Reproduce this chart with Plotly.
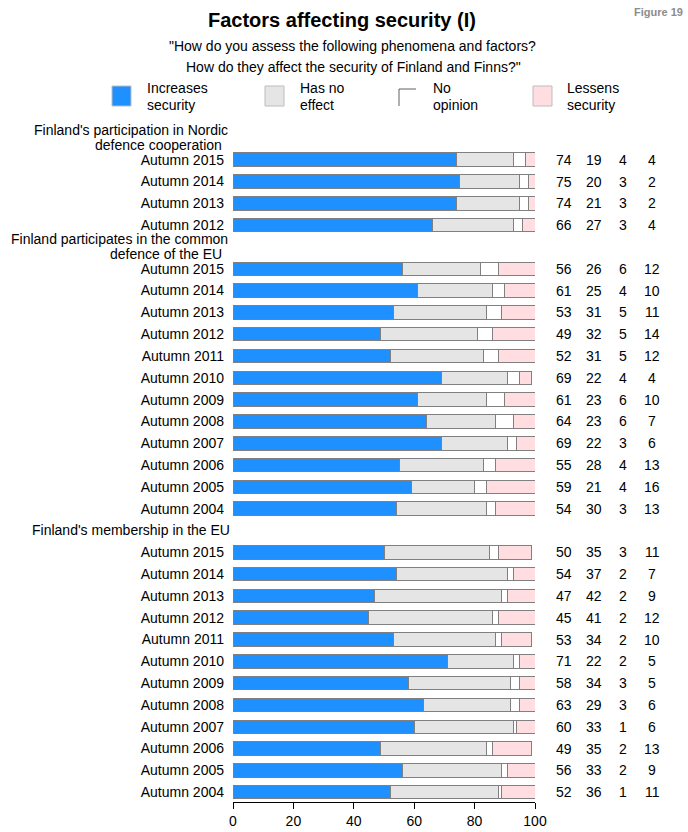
import plotly.graph_objects as go

# ---------------- data ----------------
series_names = ["Increases security", "Has no effect", "No opinion", "Lessens security"]

group_titles = [
    ["Finland's participation in Nordic", "defence cooperation"],
    ["Finland participates in the common", "defence of the EU"],
    ["Finland's membership in the EU"],
]

years_nordic = ["Autumn 2015", "Autumn 2014", "Autumn 2013", "Autumn 2012"]
nordic_increases = [74, 75, 74, 66]
nordic_noeffect = [19, 20, 21, 27]
nordic_noopinion = [4, 3, 3, 3]
nordic_lessens = [4, 2, 2, 4]

years_long = ["Autumn 2015", "Autumn 2014", "Autumn 2013", "Autumn 2012", "Autumn 2011",
              "Autumn 2010", "Autumn 2009", "Autumn 2008", "Autumn 2007", "Autumn 2006",
              "Autumn 2005", "Autumn 2004"]
eudef_increases = [56, 61, 53, 49, 52, 69, 61, 64, 69, 55, 59, 54]
eudef_noeffect = [26, 25, 31, 32, 31, 22, 23, 23, 22, 28, 21, 30]
eudef_noopinion = [6, 4, 5, 5, 5, 4, 6, 6, 3, 4, 4, 3]
eudef_lessens = [12, 10, 11, 14, 12, 4, 10, 7, 6, 13, 16, 13]

eumem_increases = [50, 54, 47, 45, 53, 71, 58, 63, 60, 49, 56, 52]
eumem_noeffect = [35, 37, 42, 41, 34, 22, 34, 29, 33, 35, 33, 36]
eumem_noopinion = [3, 2, 2, 2, 2, 2, 3, 3, 1, 2, 2, 1]
eumem_lessens = [11, 7, 9, 12, 10, 5, 5, 6, 6, 13, 9, 11]

x_ticks = [0, 20, 40, 60, 80, 100]

groups = [
    (years_nordic, [nordic_increases, nordic_noeffect, nordic_noopinion, nordic_lessens]),
    (years_long, [eudef_increases, eudef_noeffect, eudef_noopinion, eudef_lessens]),
    (years_long, [eumem_increases, eumem_noeffect, eumem_noopinion, eumem_lessens]),
]

colors = ["#1E90FF", "#E5E5E5", "#FFFFFF", "#FFDDE0"]
outline = "#808080"
FONT = "Liberation Sans, Arial, sans-serif"

# ---------------- layout of slots ----------------
ys, ylabels = [], []
header_slots = []
vals = [[], [], [], []]
slot = 0
for (yrs, series) in groups:
    header_slots.append(slot)
    slot += 1
    for i, yl in enumerate(yrs):
        ys.append(slot)
        ylabels.append(yl)
        for k in range(4):
            vals[k].append(series[k][i])
        slot += 1

fig = go.Figure()
for k in range(4):
    fig.add_trace(go.Bar(
        y=ys, x=vals[k], orientation="h", name=series_names[k],
        marker=dict(color=colors[k], line=dict(color=outline, width=1)),
        width=0.62, showlegend=False, hoverinfo="x+y",
    ))

# plot area in pixels
L, R, T, B = 233, 535, 127, 802
W, H = 688, 832


def px(x):
    return (x - L) / (R - L)


def py(y):
    return (B - y) / (B - T)


ann = []
shapes = []

# right-hand value columns (pixel x centres)
col_px = [564, 594, 623, 652]
for k in range(4):
    for yv, v in zip(ys, vals[k]):
        ann.append(dict(x=px(col_px[k]), y=yv, xref="paper", yref="y", text=str(v),
                        showarrow=False, xanchor="center", yanchor="middle",
                        font=dict(size=14, color="black", family=FONT)))

# group headers
for hs, title in zip(header_slots, group_titles):
    if len(title) == 2:
        ann.append(dict(x=px(230), y=hs, xref="paper", yref="y", text=title[0],
                        showarrow=False, xanchor="right", yanchor="middle", yshift=8,
                        font=dict(size=14, color="black", family=FONT)))
        ann.append(dict(x=px(224), y=hs, xref="paper", yref="y", text=title[1],
                        showarrow=False, xanchor="right", yanchor="middle", yshift=-7,
                        font=dict(size=14, color="black", family=FONT)))
    else:
        ann.append(dict(x=px(232), y=hs, xref="paper", yref="y", text=title[0],
                        showarrow=False, xanchor="right", yanchor="middle",
                        font=dict(size=14, color="black", family=FONT)))

# titles
ann.append(dict(x=px(342), y=py(20), xref="paper", yref="paper",
                text="<b>Factors affecting security (I)</b>", showarrow=False,
                xanchor="center", yanchor="middle",
                font=dict(size=20, color="black", family=FONT)))
ann.append(dict(x=px(352), y=py(46), xref="paper", yref="paper",
                text="\"How do you assess the following phenomena and factors?", showarrow=False,
                xanchor="center", yanchor="middle",
                font=dict(size=14, color="black", family=FONT)))
ann.append(dict(x=px(353), y=py(67), xref="paper", yref="paper",
                text="How do they affect the security of Finland and Finns?\"", showarrow=False,
                xanchor="center", yanchor="middle",
                font=dict(size=14, color="black", family=FONT)))
ann.append(dict(x=px(685), y=py(12), xref="paper", yref="paper",
                text="<b>Figure 19</b>", showarrow=False,
                xanchor="right", yanchor="middle",
                font=dict(size=11, color="#8c8c8c", family=FONT)))

# legend
leg = [
    (112, ["Increases", "security"], 145),
    (265, ["Has no", "effect"], 298),
    (399, ["No", "opinion"], 431),
    (533, ["Lessens", "security"], 565),
]
for k, (sx, lines, tx) in enumerate(leg):
    if k == 2:
        shapes.append(dict(type="line", xref="paper", yref="paper",
                           x0=px(sx), x1=px(sx + 17), y0=py(89), y1=py(89),
                           line=dict(color="#606060", width=1)))
        shapes.append(dict(type="line", xref="paper", yref="paper",
                           x0=px(sx), x1=px(sx), y0=py(89), y1=py(106),
                           line=dict(color="#606060", width=1)))
    else:
        shapes.append(dict(type="rect", xref="paper", yref="paper",
                           x0=px(sx), x1=px(sx + 19), y0=py(86), y1=py(106),
                           fillcolor=colors[k], line=dict(color="#bdbdbd", width=1)))
    ann.append(dict(x=px(tx), y=py(88), xref="paper", yref="paper", text=lines[0],
                    showarrow=False, xanchor="left", yanchor="middle",
                    font=dict(size=14, color="black", family=FONT)))
    ann.append(dict(x=px(tx), y=py(105), xref="paper", yref="paper", text=lines[1],
                    showarrow=False, xanchor="left", yanchor="middle",
                    font=dict(size=14, color="black", family=FONT)))

fig.update_layout(
    barmode="stack",
    width=W, height=H,
    margin=dict(l=L, r=W - R, t=T, b=H - B, pad=0, autoexpand=False),
    paper_bgcolor="white", plot_bgcolor="white",
    font=dict(family=FONT, size=14, color="black"),
    annotations=ann, shapes=shapes,
    showlegend=False,
    bargap=0.4,
)
fig.update_xaxes(range=[0, 100], tickvals=x_ticks, ticktext=[str(t) for t in x_ticks],
                 showline=True, linecolor="black", linewidth=1, ticks="outside",
                 ticklen=6, tickcolor="black", showgrid=False, zeroline=False,
                 automargin=False,
                 tickfont=dict(size=14, color="black", family=FONT), fixedrange=True)
fig.update_yaxes(range=[slot - 1 + 0.45, -0.5], tickvals=ys, ticktext=ylabels,
                 showline=False, ticks="", showgrid=False, zeroline=False,
                 ticklabelstandoff=8, automargin=False,
                 tickfont=dict(size=14, color="black", family=FONT), fixedrange=True)

fig.write_html("out.html", config={"displayModeBar": False},
               post_script="document.body.style.margin='0';document.body.style.overflow='hidden';")
